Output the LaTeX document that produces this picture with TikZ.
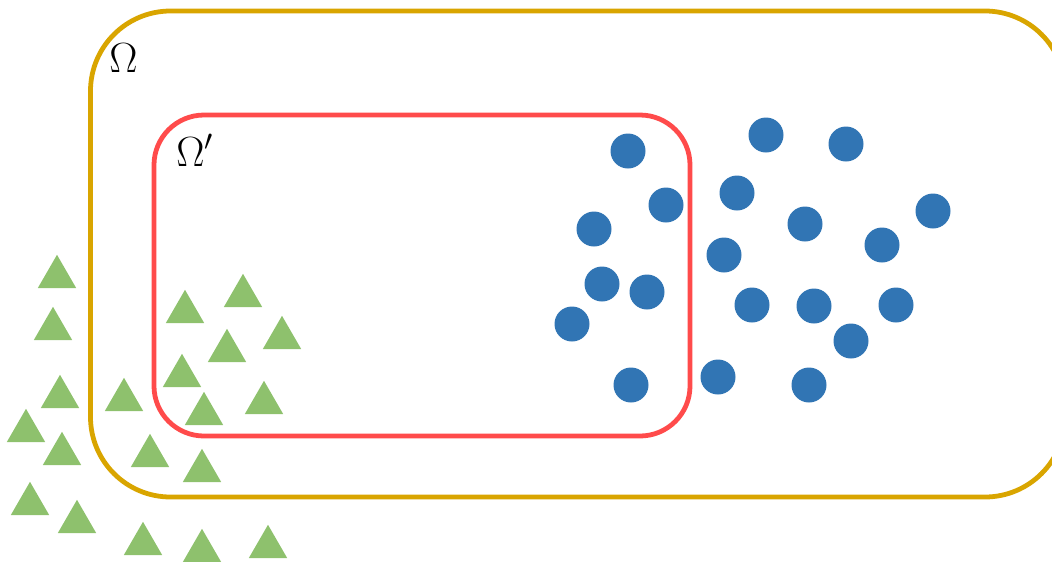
\RequirePackage{fix-cm}
\documentclass[tikz,border=0pt]{standalone}
\usetikzlibrary{shapes.geometric}
\definecolor{domgold}{RGB}{217,165,0}
\definecolor{subred}{RGB}{255,75,75}
\definecolor{ptblue}{RGB}{49,117,180}
\definecolor{ptgreen}{RGB}{142,193,109}
\begin{document}
\begin{tikzpicture}
  [x=0.025cm,y=-0.025cm,
   dot/.style={circle,fill=ptblue,inner sep=0pt,minimum size=0.875cm},
   tri/.style={regular polygon,regular polygon sides=3,fill=ptgreen,inner sep=0pt,minimum size=1.11cm},
   lab/.style={anchor=base west,inner sep=0pt,font=\fontsize{30}{36}\selectfont}]
\useasboundingbox (0,0) rectangle (1052,561);
  % domains
  \draw[domgold,line width=3.4pt,rounded corners=2cm] (90.5,11) rectangle (1065,497);
  \draw[subred,line width=3.4pt,rounded corners=1.25cm] (154,115) rectangle (690,436);
  \node[lab] (omega) at (109,72) {$\Omega$};
  \node[lab] (omegap) at (176,166) {$\Omega'$};

  % blue points
  \foreach \x/\y [count=\i] in {628/151, 766/135, 846/144, 666/205, 737/193,
      594/229, 805/224, 933/211, 882/245, 724/255, 602/284, 647/292, 752/305,
      814/306, 896/305, 572/324, 851/341, 631/385, 718/377, 809/385}
    \node[dot] (c\i) at (\x,\y) {};

  % green points
  \foreach \x/\y [count=\i] in {57/277, 53/329, 185/312, 243/296, 282/338,
      227/351, 182/376, 60/397, 124/400, 204/414, 264/403, 26/431, 62/454,
      150/456, 202/471, 30/504, 77/522, 143/544, 202/551, 268/547}
    \node[tri] (t\i) at (\x,\y) {};
\end{tikzpicture}
\end{document}
